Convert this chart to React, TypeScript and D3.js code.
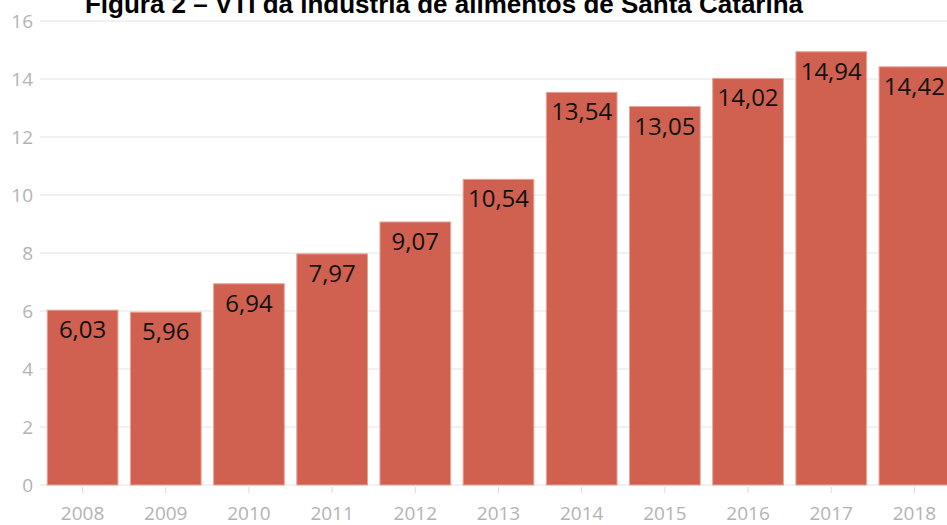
import React from "react";
import * as d3 from "d3";

const years = ["2008", "2009", "2010", "2011", "2012", "2013", "2014", "2015", "2016", "2017", "2018"];
const values = [6.03, 5.96, 6.94, 7.97, 9.07, 10.54, 13.54, 13.05, 14.02, 14.94, 14.42];
const yTicks = [0, 2, 4, 6, 8, 10, 12, 14, 16];
const title = "Figura 2 – VTI da indústria de alimentos de Santa Catarina";

const W = 947;
const H = 525;

export default function App() {
  const x = d3.scaleBand<string>().domain(years).range([41, 956]).paddingInner(0.15).paddingOuter(0.075);
  const y = d3.scaleLinear().domain([0, 16]).range([485, 21]);
  const fmt = (v: number) => v.toFixed(2).replace(".", ",");
  return (
    <svg width={W} height={H} style={{ position: "absolute", left: 0, top: 0, background: "#fff" }}>
      <text x={444} y={13} textAnchor="middle" fontFamily="Liberation Sans, Arial, sans-serif" fontWeight="bold" fontSize={26} fill="#000">
        {title}
      </text>
      {yTicks.map((t) => (
        <g key={t}>
          <line x1={40} x2={W} y1={y(t)} y2={y(t)} stroke="#ececec" strokeWidth={1.5} />
          <text x={33} y={y(t)} dy="0.35em" textAnchor="end" fontFamily="Open Sans, sans-serif" fontSize={19} fill="#b3b3b3">
            {t}
          </text>
        </g>
      ))}
      {years.map((yr, i) => {
        const x0 = x(yr)!;
        const bw = x.bandwidth();
        const cx = x0 + bw / 2;
        return (
          <g key={yr}>
            <rect x={x0} y={y(values[i])} width={bw} height={y(0) - y(values[i])} fill="#d06050" stroke="#e8a498" strokeWidth={1} />
            <text x={cx} y={y(values[i]) + 28} textAnchor="middle" fontFamily="Open Sans, sans-serif" fontSize={24} fill="#111">
              {fmt(values[i])}
            </text>
            <line x1={cx} x2={cx} y1={487} y2={493} stroke="#d9d9d9" strokeWidth={1} />
            <text x={cx} y={520} textAnchor="middle" fontFamily="Open Sans, sans-serif" fontSize={19} fill="#b3b3b3">
              {yr}
            </text>
          </g>
        );
      })}
    </svg>
  );
}
